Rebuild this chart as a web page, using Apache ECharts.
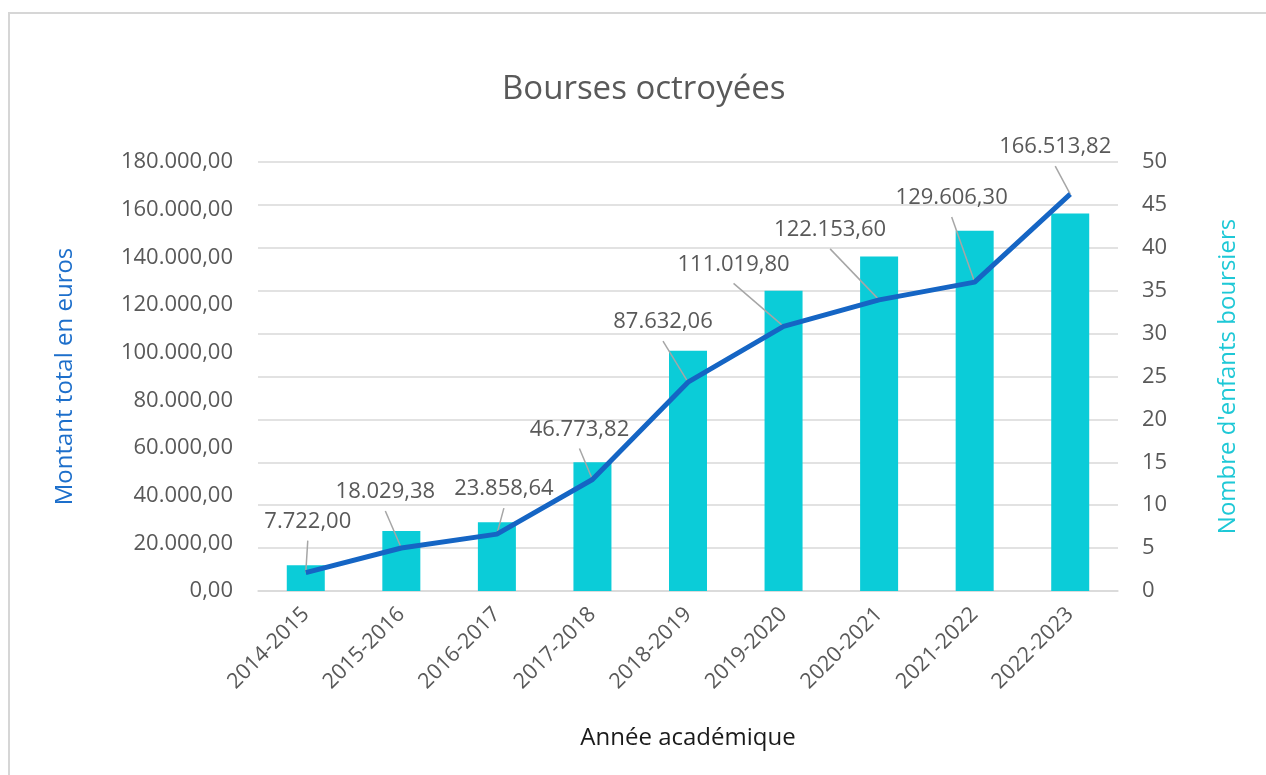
<!DOCTYPE html>
<html>
<head>
<meta charset="utf-8">
<script src="https://cdn.jsdelivr.net/npm/echarts@6/dist/echarts.min.js"></script>
<style>
  html, body { margin: 0; padding: 0; background: #fff; overflow: hidden; }
  .frame {
    position: absolute; left: 8px; top: 12px; right: 0; bottom: 0;
    border-top: 2px solid #d6d6d6; border-left: 2px solid #d6d6d6;
  }
  #chart { position: absolute; left: 0; top: 0; width: 1266px; height: 775px; }
</style>
</head>
<body>
<div class="frame"></div>
<div id="chart"></div>
<script>
// data
const years = ['2014-2015', '2015-2016', '2016-2017', '2017-2018', '2018-2019',
  '2019-2020', '2020-2021', '2021-2022', '2022-2023'];
const amounts = [7722.00, 18029.38, 23858.64, 46773.82, 87632.06, 111019.80, 122153.60, 129606.30, 166513.82];
const children = [3, 7, 8, 15, 28, 35, 39, 42, 44];

// where each value label sits, relative to its point (px)
const labelShift = [[2, -51], [-16, -56], [7, -45], [-13, -50], [-25, -60], [-50, -62], [-49, -70], [-23, -84], [-15, -47]];

const font = '"Open Sans", "Noto Sans", sans-serif';
const grey = '#595959';

const fmt = (v) => {
  const parts = v.toFixed(2).split('.');
  return parts[0].replace(/\B(?=(\d{3})+(?!\d))/g, '.') + ',' + parts[1];
};

// value label + leader line, like the excel callouts
const renderLabel = (params, api) => {
  const idx = api.value(0);
  const pt = api.coord([idx, api.value(1)]);
  const [dx, dy] = labelShift[idx];
  const tx = pt[0] + dx;
  const ty = pt[1] + dy;
  return {
    type: 'group',
    children: [
      {
        type: 'line',
        shape: { x1: tx, y1: ty + 19, x2: pt[0], y2: pt[1] },
        style: { stroke: '#a6a6a6', lineWidth: 1.5 }
      },
      {
        type: 'text',
        x: tx,
        y: ty,
        style: {
          text: fmt(api.value(1)),
          fontSize: 22,
          fontFamily: font,
          fill: grey,
          align: 'center',
          verticalAlign: 'middle'
        }
      }
    ]
  };
};

const chartInstance = echarts.init(document.getElementById('chart'));
const option = {
  animation: false,
  textStyle: { fontFamily: font },
  title: {
    text: 'Bourses octroyées',
    left: 497,
    top: 68,
    textStyle: { fontFamily: font, fontSize: 33, fontWeight: 'normal', color: grey }
  },
  grid: { left: 258, right: 148, top: 162, bottom: 184 },
  xAxis: {
    type: 'category',
    data: years,
    name: 'Année académique',
    nameLocation: 'middle',
    nameGap: 135,
    nameTextStyle: { fontSize: 24, color: '#1a1a1a' },
    axisTick: { show: false },
    axisLine: { lineStyle: { color: '#d9d9d9', width: 1.5 } },
    axisLabel: { rotate: 45, fontSize: 21.5, color: grey, margin: 20, interval: 0 }
  },
  yAxis: [
    {
      type: 'value',
      min: 0, max: 180000, interval: 20000,
      name: 'Montant total en euros',
      nameLocation: 'middle',
      nameGap: 181,
      nameRotate: 90,
      nameTextStyle: { fontSize: 24, color: '#1d6fcb' },
      splitLine: { show: false },
      axisLine: { show: false },
      axisTick: { show: false },
      axisLabel: { fontSize: 22, color: grey, margin: 25, formatter: fmt }
    },
    {
      type: 'value',
      min: 0, max: 50, interval: 5,
      name: "Nombre d'enfants boursiers",
      nameLocation: 'middle',
      nameGap: 98,
      nameRotate: 90,
      nameTextStyle: { fontSize: 24, color: '#1ec8d6' },
      splitLine: { lineStyle: { color: '#d9d9d9', width: 1.5 } },
      axisLine: { show: false },
      axisTick: { show: false },
      axisLabel: { fontSize: 22, color: grey, margin: 24 }
    }
  ],
  series: [
    {
      name: "Nombre d'enfants boursiers",
      type: 'bar',
      yAxisIndex: 1,
      data: children,
      barWidth: 38,
      itemStyle: { color: '#0bccd8' }
    },
    {
      name: 'labels',
      type: 'custom',
      yAxisIndex: 0,
      clip: false,
      data: amounts.map((v, i) => [i, v]),
      encode: { x: 0, y: 1 },
      renderItem: renderLabel,
      z: 3
    },
    {
      name: 'Montant total',
      type: 'line',
      yAxisIndex: 0,
      data: amounts,
      symbol: 'none',
      lineStyle: { color: '#1565c4', width: 5 },
      z: 4
    }
  ]
};
chartInstance.setOption(option);
</script>
</body>
</html>
